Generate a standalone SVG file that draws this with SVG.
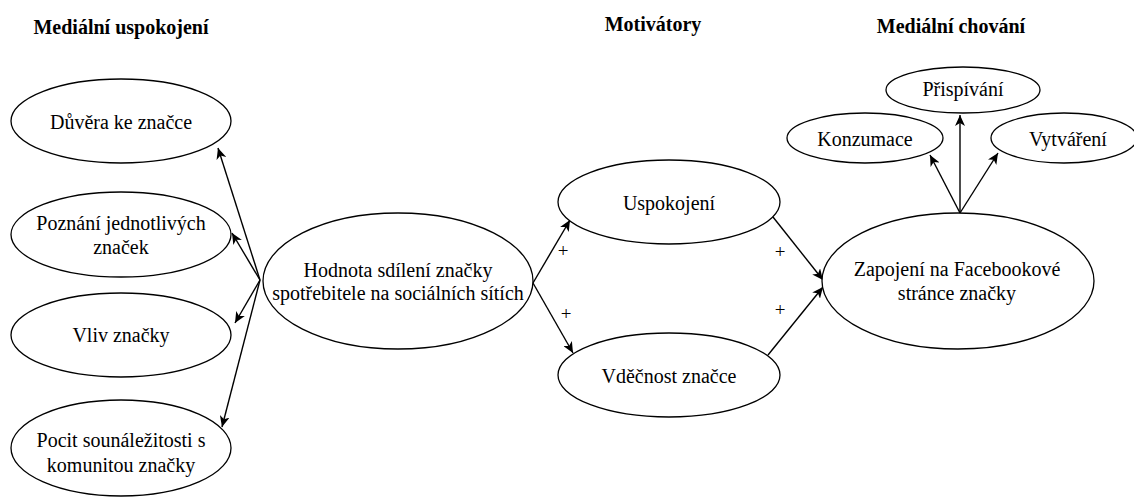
<svg xmlns="http://www.w3.org/2000/svg" width="1134" height="498" viewBox="0 0 1134 498">
<style>
  .node ellipse { fill: #ffffff; stroke: #000000; stroke-width: 1.3; }
  .lbl { font-family: "Liberation Serif", "Times New Roman", serif; font-size: 20px; fill: #000000; text-anchor: middle; }
  .hdr { font-family: "Liberation Serif", "Times New Roman", serif; font-size: 20px; font-weight: bold; fill: #000000; text-anchor: middle; }
  .conn line { stroke: #000000; stroke-width: 1.4; marker-end: url(#arr); }
  .plus { font-family: "Liberation Serif", "Times New Roman", serif; font-size: 19px; fill: #000000; text-anchor: middle; }
</style>
<defs>
  <marker id="arr" markerUnits="userSpaceOnUse" markerWidth="12" markerHeight="10" viewBox="0 0 12 10" refX="11" refY="5" orient="auto">
    <path d="M0,0 L11,5 L0,10 L3,5 Z" fill="#000000"/>
  </marker>
</defs>
<rect x="0" y="0" width="1134" height="498" fill="#ffffff"/>

<g id="headers">
  <text class="hdr" x="121" y="34">Mediální uspokojení</text>
  <text class="hdr" x="653" y="31">Motivátory</text>
  <text class="hdr" x="951" y="33">Mediální chování</text>
</g>

<g id="connectors" class="conn">
  <line x1="260" y1="280" x2="218" y2="148"/>
  <line x1="260" y1="280" x2="232" y2="233"/>
  <line x1="260" y1="280" x2="235" y2="323"/>
  <line x1="260" y1="280" x2="222" y2="427"/>
  <line x1="533" y1="283" x2="570" y2="220"/>
  <line x1="533" y1="283" x2="573" y2="353"/>
  <line x1="773" y1="217" x2="823" y2="280"/>
  <line x1="768" y1="355" x2="823" y2="287"/>
  <line x1="960" y1="213" x2="930" y2="155"/>
  <line x1="960" y1="213" x2="960" y2="115"/>
  <line x1="960" y1="213" x2="998" y2="153"/>
</g>

<g id="plus-labels">
  <text class="plus" x="563" y="257">+</text>
  <text class="plus" x="566" y="320">+</text>
  <text class="plus" x="780" y="258">+</text>
  <text class="plus" x="780" y="316">+</text>
</g>

<g id="n-duvera" class="node">
  <ellipse cx="121" cy="121" rx="110" ry="42"/>
  <text class="lbl" x="121" y="129">Důvěra ke značce</text>
</g>
<g id="n-poznani" class="node">
  <ellipse cx="121" cy="234.5" rx="110" ry="42.5"/>
  <text class="lbl" x="121" y="230">Poznání jednotlivých</text>
  <text class="lbl" x="121" y="254">značek</text>
</g>
<g id="n-vliv" class="node">
  <ellipse cx="121" cy="335" rx="110" ry="42"/>
  <text class="lbl" x="121" y="342">Vliv značky</text>
</g>
<g id="n-pocit" class="node">
  <ellipse cx="121" cy="448" rx="110" ry="48"/>
  <text class="lbl" x="121" y="447">Pocit sounáležitosti s</text>
  <text class="lbl" x="121" y="472">komunitou značky</text>
</g>
<g id="n-hodnota" class="node">
  <ellipse cx="398" cy="281" rx="135" ry="68"/>
  <text class="lbl" x="398" y="277">Hodnota sdílení značky</text>
  <text class="lbl" x="398" y="300">spotřebitele na sociálních sítích</text>
</g>
<g id="n-uspokojeni" class="node">
  <ellipse cx="669" cy="202" rx="111" ry="42"/>
  <text class="lbl" x="669" y="210">Uspokojení</text>
</g>
<g id="n-vdecnost" class="node">
  <ellipse cx="669" cy="375" rx="111" ry="42"/>
  <text class="lbl" x="669" y="383">Vděčnost značce</text>
</g>
<g id="n-zapojeni" class="node">
  <ellipse cx="958" cy="281" rx="136" ry="68"/>
  <text class="lbl" x="957" y="276">Zapojení na Facebookové</text>
  <text class="lbl" x="957" y="300">stránce značky</text>
</g>
<g id="n-prispivani" class="node">
  <ellipse cx="963" cy="90" rx="77" ry="23"/>
  <text class="lbl" x="963" y="96">Přispívání</text>
</g>
<g id="n-konzumace" class="node">
  <ellipse cx="865" cy="138" rx="78" ry="25"/>
  <text class="lbl" x="865" y="146">Konzumace</text>
</g>
<g id="n-vytvareni" class="node">
  <ellipse cx="1064" cy="138" rx="73" ry="25"/>
  <text class="lbl" x="1068" y="146">Vytváření</text>
</g>
</svg>
